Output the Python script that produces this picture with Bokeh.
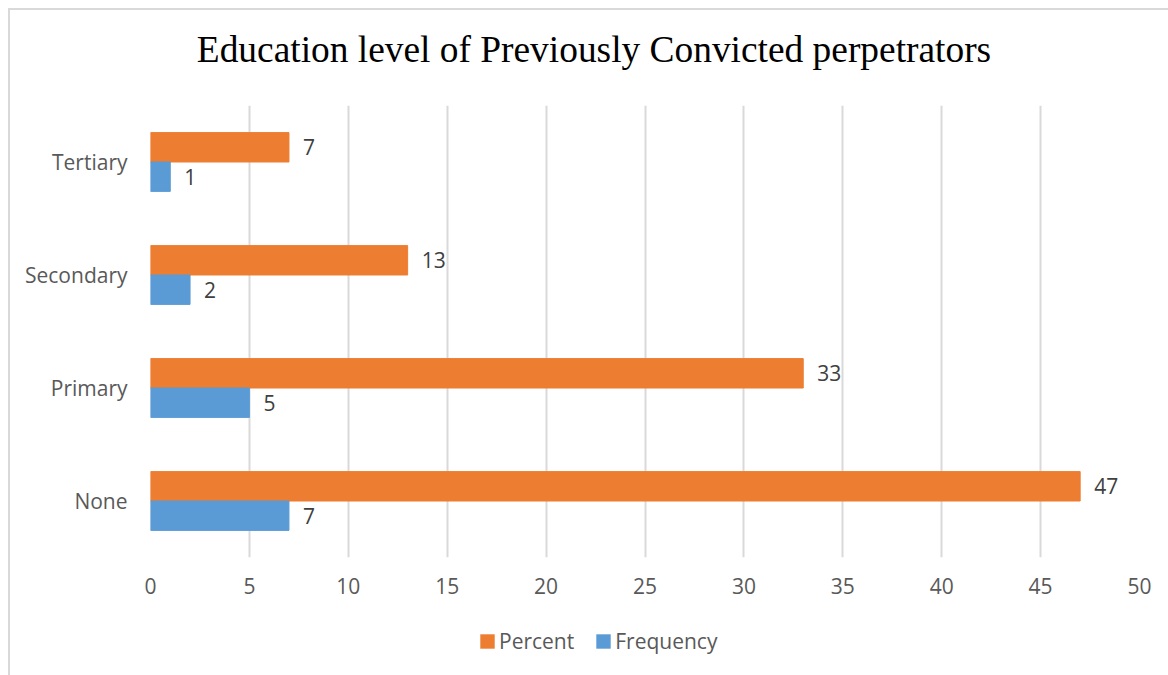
from bokeh.plotting import figure
from bokeh.layouts import column
from bokeh.models import (ColumnDataSource, FactorRange, Legend, LegendItem,
                          FixedTicker, Range1d, Label)
from bokeh.core.properties import value
from bokeh.transform import dodge
from bokeh.embed import file_html
from bokeh.resources import INLINE

# Education level of previously convicted perpetrators
levels = ["None", "Primary", "Secondary", "Tertiary"]
percent = [47, 33, 13, 7]
frequency = [7, 5, 2, 1]
x_ticks = [0, 5, 10, 15, 20, 25, 30, 35, 40, 45, 50]
series = ["Percent", "Frequency"]
chart_title = "Education level of Previously Convicted perpetrators"

ORANGE = "#ED7D31"
BLUE = "#5B9BD5"
GREY_TXT = "#595959"
GRID = "#d9d9d9"
SANS = "Open Sans"
FS = "21px"
W = 1158


def strip(height, lo=0, hi=1):
    """A blank strip whose frame lines up with the chart frame."""
    s = figure(width=W, height=height, x_range=Range1d(lo, hi), y_range=Range1d(lo, hi),
               x_axis_type=None, y_axis_type=None, title=None,
               output_backend="svg", toolbar_location=None,
               min_border_left=0, min_border_right=0,
               min_border_top=0, min_border_bottom=0)
    s.outline_line_color = None
    s.grid.visible = False
    s.background_fill_color = "white"
    s.border_fill_color = "white"
    return s


src = ColumnDataSource(dict(
    level=levels,
    percent=percent,
    frequency=frequency,
    percent_txt=[str(v) for v in percent],
    frequency_txt=[str(v) for v in frequency],
))

# title strip
pt = strip(95)
pt.add_layout(Label(x=443.5, y=56, x_units="screen", y_units="screen",
                    text=chart_title, text_align="center", text_baseline="alphabetic",
                    text_font="Liberation Serif", text_font_size="37.4px",
                    text_color="black"))

# main chart
p = figure(width=W, height=504, title=None,
           y_range=FactorRange(*levels), x_range=(0, 50),
           output_backend="svg", toolbar_location=None,
           min_border_left=140, min_border_right=29,
           min_border_top=0, min_border_bottom=52)

p.background_fill_color = "white"
p.border_fill_color = "white"
p.outline_line_color = None

off = 0.13
bh = 0.26
r_pct = p.hbar(y=dodge("level", off, range=p.y_range), left=0, right="percent",
               height=bh, source=src, fill_color=ORANGE, line_color=ORANGE)
r_frq = p.hbar(y=dodge("level", -off, range=p.y_range), left=0, right="frequency",
               height=bh, source=src, fill_color=BLUE, line_color=BLUE)

# value labels at the end of each bar
for col, txt, dy in (("percent", "percent_txt", off), ("frequency", "frequency_txt", -off)):
    p.text(x=col, y=dodge("level", dy, range=p.y_range), text=txt,
           source=src, x_offset=14, text_align="left", text_baseline="middle",
           text_font=value(SANS), text_font_size=FS, text_color="#404040")

# axes
xa = p.xaxis[0]
xa.ticker = FixedTicker(ticks=x_ticks)
xa.axis_line_color = None
xa.major_tick_line_color = None
xa.major_tick_out = 0
xa.major_tick_in = 0
xa.minor_tick_line_color = None
xa.major_label_text_font = SANS
xa.major_label_text_font_size = FS
xa.major_label_text_color = GREY_TXT
xa.major_label_standoff = 20

ya = p.yaxis[0]
ya.axis_line_color = None
ya.major_tick_line_color = None
ya.major_tick_out = 0
ya.major_tick_in = 0
ya.minor_tick_line_color = None
ya.major_label_text_font = SANS
ya.major_label_text_font_size = FS
ya.major_label_text_color = GREY_TXT
ya.major_label_standoff = 23

p.xgrid.grid_line_color = GRID
p.xgrid.grid_line_width = 2
p.xgrid.ticker = FixedTicker(ticks=x_ticks)
p.ygrid.grid_line_color = None

# legend strip; its proxy bars lie below-left of the strip's visible range
pl = strip(66, 100, 101)
l_pct = pl.hbar(y="percent", left="percent", right="percent", height=0.1, source=src,
                fill_color=ORANGE, line_color=None)
l_frq = pl.hbar(y="percent", left="percent", right="percent", height=0.1, source=src,
                fill_color=BLUE, line_color=None)

legend = Legend(items=[LegendItem(label=series[0], renderers=[l_pct]),
                       LegendItem(label=series[1], renderers=[l_frq])],
                orientation="horizontal", location=(328, 20),
                border_line_color=None, background_fill_alpha=0,
                glyph_width=18, glyph_height=18, label_standoff=3,
                spacing=20, padding=0, margin=0,
                label_text_font=SANS, label_text_font_size=FS,
                label_text_color=GREY_TXT, label_height=20)
pl.add_layout(legend)

layout = column(pt, p, pl, spacing=0)
layout.margin = (8, 0, 0, 8)
layout.styles = {"border-left": f"2px solid {GRID}", "border-top": f"2px solid {GRID}",
                 "background-color": "white"}

open("out.html", "w").write(file_html(layout, INLINE))
